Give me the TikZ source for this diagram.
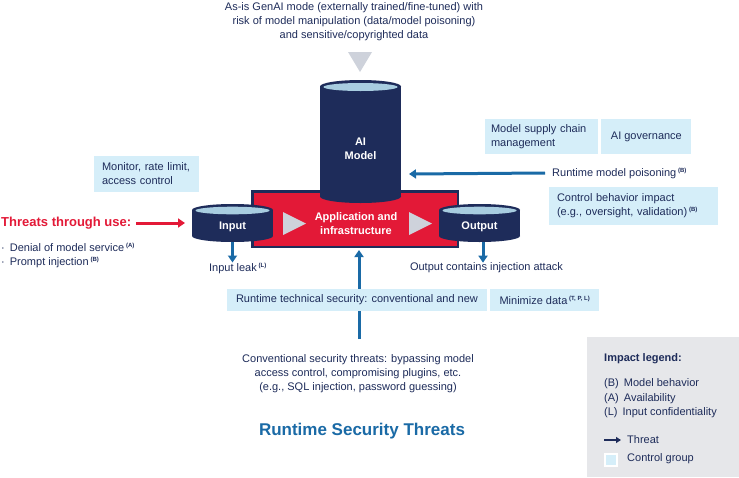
\documentclass[tikz,border=0pt]{standalone}
\usepackage{fontspec}
\setmainfont{Liberation Sans}
\usepackage{tikz}
\usetikzlibrary{arrows.meta,positioning}
\definecolor{navyc}{HTML}{1E2C5A}
\definecolor{arrowc}{HTML}{1A6AA6}
\definecolor{ctrlc}{HTML}{D5EEF9}
\definecolor{appred}{HTML}{E31937}
\definecolor{trig}{HTML}{CED2DB}
\definecolor{cyltop}{HTML}{A8CDE0}
\definecolor{legendc}{HTML}{E6E7EA}
\newcommand{\imp}[1]{\,\textsuperscript{\fontsize{6}{6}\selectfont\bfseries (#1)}}

\begin{document}
\begin{tikzpicture}[x=1pt,y=-1pt,font=\fontsize{11}{14}\selectfont,
  ctrl/.style={fill=ctrlc,inner sep=0pt,text=navyc},
  txt/.style={text=navyc,inner sep=0pt,align=center},
  tarrow/.style={-{Triangle[length=7pt,width=9pt]},line width=3pt,arrowc},
  drumtxt/.style={text=white,font=\fontsize{11}{14}\selectfont\bfseries,inner sep=0pt,align=center}]
  \useasboundingbox[fill=white] (0,0) rectangle (739,477);
  % where the model comes from
  \node[txt] (asis) at (354,22) {As-is GenAI mode (externally trained/fine-tuned) with\\risk of model manipulation (data/model poisoning)\\and sensitive/copyrighted data};
  \fill[trig] (348,52) -- (372,52) -- (360,72) -- cycle;
  % application block with flow marks
  \node[draw=navyc,line width=2.5pt,fill=appred,minimum width=205.5,minimum height=55.5,inner sep=0] (app) at (355,219) {};
  \fill[trig] (283,212) -- (306,223.5) -- (283,235) -- cycle;
  \fill[trig] (409,212) -- (432,223.5) -- (409,235) -- cycle;
  \node[drumtxt] (apptxt) at (356,223.5) {Application and\\infrastructure};
  % AI model drum
  \fill[navyc] (320,86.5) rectangle (401,196.5);
  \fill[navyc] (360.5,196.5) ellipse (40.5 and 6.5);
  \fill[navyc] (360.5,86.5) ellipse (40.5 and 6.5);
  \fill[cyltop] (360.5,87) ellipse (37 and 4);
  \node[drumtxt] (model) at (360.5,149) {AI\\Model};
  % input and output drums
  \foreach \cx in {232.5,479.5} {
    \fill[navyc] (\cx-40.5,210) rectangle (\cx+40.5,236);
    \fill[navyc] (\cx,236) ellipse (40.5 and 6);
    \fill[navyc] (\cx,210) ellipse (40.5 and 6);
    \fill[cyltop] (\cx,210.5) ellipse (37 and 3.8);
  }
  \node[drumtxt] (inp) at (232.5,227) {Input};
  \node[drumtxt] (outp) at (479.5,227) {Output};
  \coordinate (inL) at (192,223);
  \coordinate (inB) at (232.5,242);
  \coordinate (outB) at (483,242);
  \coordinate (modelR) at (401,174);
  % threats through use
  \node[ctrl,minimum width=105,minimum height=36,text width=89,align=left] (monitor) at (146.5,174) {Monitor, rate limit,\\access control};
  \node[anchor=west,text=appred,font=\fontsize{13}{16}\selectfont\bfseries,inner sep=0] (threats) at (1,223) {Threats through use:};
  \draw[tarrow,appred] ([xshift=5pt]threats.east) -- ([xshift=-7pt]inL);
  \node[txt,anchor=west] (dos) at (1,247) {·\hspace{5pt}Denial of model service\imp{A}};
  \node[txt,anchor=west] (pinj) at (1,262) {·\hspace{5pt}Prompt injection\imp{B}};
  % leaks out of input and output
  \node[txt] (leak) at (238,268) {Input leak\imp{L}};
  \draw[tarrow] (inB) -- (inB |- leak.north);
  \node[txt] (inj) at (486.5,268) {Output contains injection attack};
  \draw[tarrow] (outB) -- (outB |- inj.north);
  % right side controls and poisoning
  \node[ctrl,minimum width=113,minimum height=35,text width=101,align=left] (supply) at (541.5,136.5) {Model supply chain\\management};
  \node[ctrl,minimum width=90,minimum height=35,right=3pt of supply] (gov) {AI governance};
  \node[txt,anchor=west] (poison) at (552,173) {Runtime model poisoning\imp{B}};
  \draw[tarrow] ([xshift=-7pt]poison.west) -- ([xshift=8pt]modelR);
  \node[ctrl,minimum width=169,minimum height=38,text width=153,align=left] (behav) at (633.5,206) {Control behavior impact\\(e.g., oversight, validation)\imp{B}};
  % conventional threats from below
  \coordinate (convtop) at (359,339);
  \draw[tarrow] (convtop) -- ([yshift=-2pt]convtop |- app.south);
  \node[ctrl,minimum width=260,minimum height=22] (techsec) at (357,300) {Runtime technical security: conventional and new};
  \node[ctrl,minimum width=109,minimum height=22,right=3pt of techsec] (mindata) {Minimize data\imp{T, P, L}};
  \node[txt] (conv) at (358,374) {Conventional security threats: bypassing model\\access control, compromising plugins, etc.\\(e.g., SQL injection, password guessing)};
  \node[text=arrowc,font=\fontsize{17}{20}\selectfont\bfseries,inner sep=0] (title) at (362,431) {Runtime Security Threats};
  % legend
  \node[fill=legendc,minimum width=152,minimum height=140,inner sep=0] (legend) at (663,407) {};
  \node[txt,anchor=west,font=\fontsize{11}{14}\selectfont\bfseries] (leghead) at (604,359) {Impact legend:};
  \foreach \k/\lbl/\yy in {B/Model behavior/384,A/Availability/398.5,L/Input confidentiality/413}
    \node[txt,anchor=west] (leg\k) at (604,\yy) {(\k)\hspace{5pt}\lbl};
  \coordinate (thrA) at (604,440);
  \node[txt,anchor=west] (thr) at (627,440) {Threat};
  \draw[-{Triangle[length=5pt,width=6pt]},line width=2pt,navyc] (thrA) -- ([xshift=-6pt]thr.west);
  \node[fill=ctrlc,draw=white,line width=1.5pt,minimum size=12,inner sep=0] (sq) at (611,460) {};
  \node[txt,anchor=west] (ctrlg) at (627,459) {Control group};
\end{tikzpicture}
\end{document}
